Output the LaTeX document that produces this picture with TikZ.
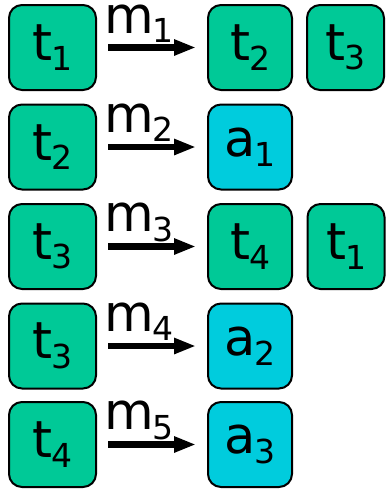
\documentclass[tikz,border=0pt]{standalone}
\usepackage{fontspec}
\setmainfont{DejaVu Sans}
\usetikzlibrary{arrows.meta}
\definecolor{tokgreen}{RGB}{0,201,151}
\definecolor{tokcyan}{RGB}{0,204,221}
% lowered, smaller index after a letter
\newcommand\subidx[1]{\kern-1pt\raisebox{-9.5pt}{\fontsize{33}{33}\selectfont #1}}
\begin{document}
\begin{tikzpicture}[x=1pt,y=-1pt,
  tok/.style={draw=black, line width=2pt, rounded corners=13pt,
    minimum height=85pt, inner sep=0pt, font=\fontsize{51}{51}\selectfont},
  colL/.style={minimum width=87pt},
  colM/.style={minimum width=84pt},
  colR/.style={minimum width=77pt},
  ttok/.style={tok, fill=tokgreen},
  atok/.style={tok, fill=tokcyan},
  msg/.style={line width=6.5pt, -{Triangle[length=22pt,width=15pt]}},
  lbl/.style={anchor=base west, inner sep=0pt, font=\fontsize{51}{51}\selectfont}]
\useasboundingbox (0,0) rectangle (387,491);

% row 1
\node[ttok,colL] (l1) at (52.5,47.5) {t\subidx{1}};
\node[ttok,colM] (m1) at (250,47.5) {t\subidx{2}};
\node[ttok,colR] (r1) at (345.5,47.5) {t\subidx{3}};
\draw[msg] ([xshift=11pt]l1.east) -- ([xshift=-11pt]m1.west);
\node[lbl] (lab1) at (104,33) {m\subidx{1}};

% row 2
\node[ttok,colL] (l2) at (52.5,147) {t\subidx{2}};
\node[atok,colM] (m2) at (250,147) {a\subidx{1}};
\draw[msg] ([xshift=11pt]l2.east) -- ([xshift=-11pt]m2.west);
\node[lbl] (lab2) at (104,132) {m\subidx{2}};

% row 3
\node[ttok,colL] (l3) at (52.5,246.5) {t\subidx{3}};
\node[ttok,colM] (m3) at (250,246.5) {t\subidx{4}};
\node[ttok,colR] (r3) at (346,246.5) {t\subidx{1}};
\draw[msg] ([xshift=11pt]l3.east) -- ([xshift=-11pt]m3.west);
\node[lbl] (lab3) at (104,231.5) {m\subidx{3}};

% row 4
\node[ttok,colL] (l4) at (52.5,346) {t\subidx{3}};
\node[atok,colM] (m4) at (250,346) {a\subidx{2}};
\draw[msg] ([xshift=11pt]l4.east) -- ([xshift=-11pt]m4.west);
\node[lbl] (lab4) at (104,331) {m\subidx{4}};

% row 5
\node[ttok,colL] (l5) at (52.5,444.5) {t\subidx{4}};
\node[atok,colM] (m5) at (250,444.5) {a\subidx{3}};
\draw[msg] ([xshift=11pt]l5.east) -- ([xshift=-11pt]m5.west);
\node[lbl] (lab5) at (104,429.5) {m\subidx{5}};
\end{tikzpicture}
\end{document}
